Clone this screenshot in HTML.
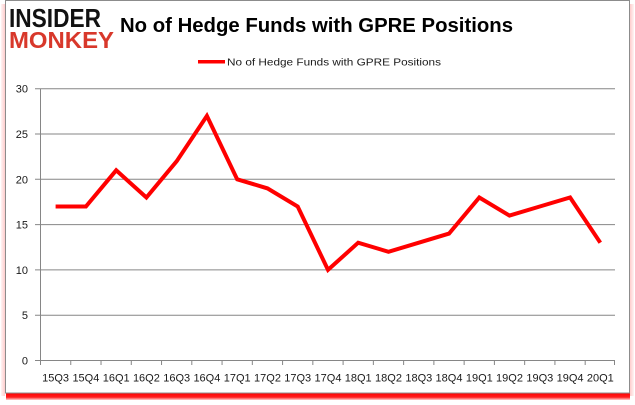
<!DOCTYPE html>
<html><head><meta charset="utf-8"><style>
html,body{margin:0;padding:0;background:#fff;}
svg{display:block;}
text{font-family:"Liberation Sans",Arial,sans-serif;}
</style></head><body>
<svg width="635" height="405" viewBox="0 0 635 405" xmlns="http://www.w3.org/2000/svg">
<defs>
<linearGradient id="bs" x1="0" y1="0" x2="0" y2="1">
<stop offset="0" stop-color="#ff0000"/><stop offset="0.6" stop-color="#ff2020"/><stop offset="1" stop-color="#ffd0d0"/>
</linearGradient>
<linearGradient id="ls" x1="1" y1="0" x2="0" y2="0">
<stop offset="0" stop-color="#ffcccc"/><stop offset="1" stop-color="#fff4f4"/>
</linearGradient>
<linearGradient id="rs" x1="0" y1="0" x2="1" y2="0">
<stop offset="0" stop-color="#ffcccc"/><stop offset="1" stop-color="#fff4f4"/>
</linearGradient>
</defs>
<rect x="0" y="0" width="635" height="405" fill="#fff"/>
<!-- shadows -->
<rect x="1" y="4" width="4" height="392" fill="url(#ls)"/>
<rect x="630" y="4" width="4" height="392" fill="url(#rs)"/>
<rect x="6" y="393" width="624" height="7" fill="url(#bs)"/>
<!-- frame -->
<rect x="5.5" y="0.5" width="624" height="392.5" fill="#fff" stroke="#8c8c8c" stroke-width="1"/>

<!-- logo -->
<text x="9" y="27" font-size="26" font-weight="bold" fill="#111" textLength="92" lengthAdjust="spacingAndGlyphs">INSIDER</text>
<text x="9" y="48" font-size="23.5" font-weight="bold" fill="#d8382b" textLength="105" lengthAdjust="spacingAndGlyphs">MONKEY</text>

<!-- title -->
<text x="120" y="32" font-size="20.5" font-weight="bold" fill="#000" textLength="393" lengthAdjust="spacingAndGlyphs">No of Hedge Funds with GPRE Positions</text>

<!-- legend -->
<line x1="198" y1="61.7" x2="225" y2="61.7" stroke="#ff0000" stroke-width="3.5"/>
<text x="227" y="65.5" font-size="10.5" fill="#1a1a1a" textLength="214" lengthAdjust="spacingAndGlyphs">No of Hedge Funds with GPRE Positions</text>

<!-- gridlines -->
<g stroke="#868686" stroke-width="1">
<line x1="35" y1="88.7" x2="615" y2="88.7"/>
<line x1="35" y1="134" x2="615" y2="134"/>
<line x1="35" y1="179.3" x2="615" y2="179.3"/>
<line x1="35" y1="224.6" x2="615" y2="224.6"/>
<line x1="35" y1="269.9" x2="615" y2="269.9"/>
<line x1="35" y1="315.2" x2="615" y2="315.2"/>
<line x1="35" y1="360.5" x2="615" y2="360.5"/>
<line x1="40.5" y1="88.7" x2="40.5" y2="360.5"/>
</g>
<!-- x ticks -->
<g stroke="#868686" stroke-width="1">
<line x1="40.5" y1="360.5" x2="40.5" y2="365"/>
<line x1="70.76" y1="360.5" x2="70.76" y2="365"/>
<line x1="101.02" y1="360.5" x2="101.02" y2="365"/>
<line x1="131.28" y1="360.5" x2="131.28" y2="365"/>
<line x1="161.54" y1="360.5" x2="161.54" y2="365"/>
<line x1="191.8" y1="360.5" x2="191.8" y2="365"/>
<line x1="222.06" y1="360.5" x2="222.06" y2="365"/>
<line x1="252.32" y1="360.5" x2="252.32" y2="365"/>
<line x1="282.58" y1="360.5" x2="282.58" y2="365"/>
<line x1="312.84" y1="360.5" x2="312.84" y2="365"/>
<line x1="343.1" y1="360.5" x2="343.1" y2="365"/>
<line x1="373.36" y1="360.5" x2="373.36" y2="365"/>
<line x1="403.62" y1="360.5" x2="403.62" y2="365"/>
<line x1="433.88" y1="360.5" x2="433.88" y2="365"/>
<line x1="464.14" y1="360.5" x2="464.14" y2="365"/>
<line x1="494.4" y1="360.5" x2="494.4" y2="365"/>
<line x1="524.66" y1="360.5" x2="524.66" y2="365"/>
<line x1="554.92" y1="360.5" x2="554.92" y2="365"/>
<line x1="585.18" y1="360.5" x2="585.18" y2="365"/>
<line x1="614.5" y1="360.5" x2="614.5" y2="365"/>
</g>

<!-- y labels -->
<g font-size="11" fill="#1a1a1a" text-anchor="end">
<text x="28" y="92.7">30</text>
<text x="28" y="138">25</text>
<text x="28" y="183.3">20</text>
<text x="28" y="228.6">15</text>
<text x="28" y="273.9">10</text>
<text x="28" y="319.2">5</text>
<text x="28" y="364.5">0</text>
</g>

<!-- x labels -->
<g font-size="11" fill="#1a1a1a" text-anchor="middle">
<text x="55.6" y="381.7">15Q3</text>
<text x="85.9" y="381.7">15Q4</text>
<text x="116.2" y="381.7">16Q1</text>
<text x="146.4" y="381.7">16Q2</text>
<text x="176.7" y="381.7">16Q3</text>
<text x="206.9" y="381.7">16Q4</text>
<text x="237.2" y="381.7">17Q1</text>
<text x="267.5" y="381.7">17Q2</text>
<text x="297.7" y="381.7">17Q3</text>
<text x="328" y="381.7">17Q4</text>
<text x="358.2" y="381.7">18Q1</text>
<text x="388.5" y="381.7">18Q2</text>
<text x="418.8" y="381.7">18Q3</text>
<text x="449" y="381.7">18Q4</text>
<text x="479.3" y="381.7">19Q1</text>
<text x="509.5" y="381.7">19Q2</text>
<text x="539.8" y="381.7">19Q3</text>
<text x="570.1" y="381.7">19Q4</text>
<text x="600.3" y="381.7">20Q1</text>
</g>

<!-- series -->
<polyline fill="none" stroke="#ff0000" stroke-width="4" stroke-linejoin="miter" stroke-linecap="butt"
points="55.6,206.5 85.9,206.5 116.2,170.3 146.4,197.5 176.7,161.2 206.9,115.9 237.2,179.3 267.5,188.4 297.7,206.5 328,269.9 358.2,242.7 388.5,251.8 418.8,242.7 449,233.6 479.3,197.5 509.5,215.6 539.8,206.5 570.1,197.5 600.3,242.7"/>
</svg>
</body></html>
